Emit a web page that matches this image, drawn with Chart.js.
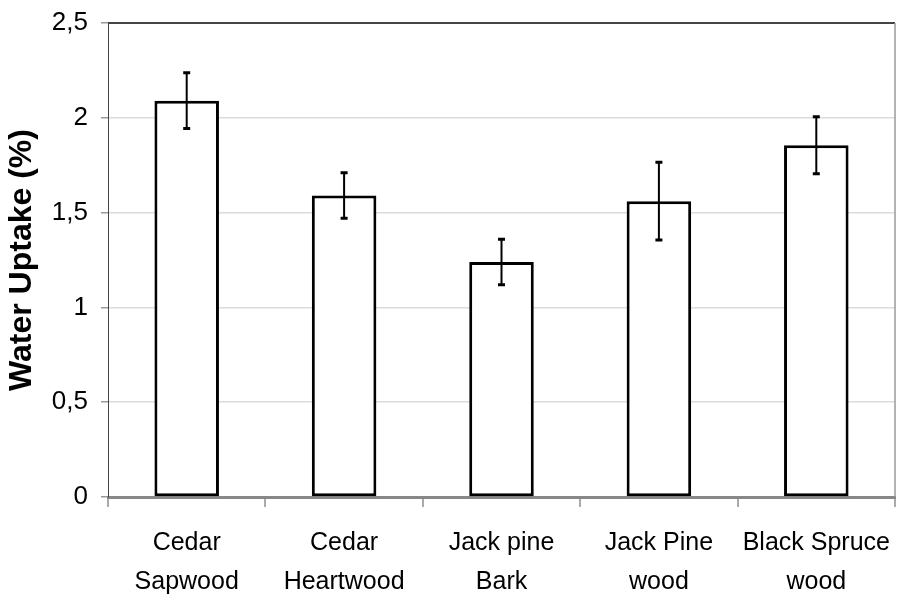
<!DOCTYPE html>
<html>
<head>
<meta charset="utf-8">
<script src="https://cdn.jsdelivr.net/npm/chart.js@4.4.1/dist/chart.umd.min.js"></script>
<style>
html,body{margin:0;padding:0;background:#fff;}
#wrap{width:897px;height:601px;}
</style>
</head>
<body>
<div id="wrap"><canvas id="c" width="897" height="601"></canvas></div>
<script>
const categories = [["Cedar","Sapwood"],["Cedar","Heartwood"],["Jack pine","Bark"],["Jack Pine","wood"],["Black Spruce","wood"]];
const uptake = [2.09, 1.59, 1.24, 1.56, 1.855];
const errors = [0.147, 0.12, 0.12, 0.205, 0.15];
const yTicks = [0, 0.5, 1, 1.5, 2, 2.5];
const yTitle = "Water Uptake (%)";

const FONT = "'Liberation Sans',Arial,sans-serif";

const errorBars = {
  id: 'errorBars',
  afterDatasetsDraw(chart) {
    const ctx = chart.ctx;
    const meta = chart.getDatasetMeta(0);
    const y = chart.scales.y;
    ctx.save();
    ctx.strokeStyle = '#000';
    meta.data.forEach((bar, i) => {
      const x = bar.x;
      const top = y.getPixelForValue(uptake[i] + errors[i]);
      const bot = y.getPixelForValue(uptake[i] - errors[i]);
      ctx.lineWidth = 2;
      ctx.beginPath();
      ctx.moveTo(x, top); ctx.lineTo(x, bot); ctx.stroke();
      ctx.lineWidth = 3;
      ctx.beginPath();
      ctx.moveTo(x - 3.5, top); ctx.lineTo(x + 3.5, top);
      ctx.moveTo(x - 3.5, bot); ctx.lineTo(x + 3.5, bot);
      ctx.stroke();
    });
    ctx.restore();
  }
};

const frame = {
  id: 'frame',
  afterDraw(chart) {
    const a = chart.chartArea, ctx = chart.ctx;
    ctx.save();
    ctx.strokeStyle = '#444';
    ctx.lineWidth = 2;
    ctx.beginPath();
    ctx.moveTo(a.left, a.top); ctx.lineTo(a.right, a.top);
    ctx.stroke();
    ctx.strokeStyle = '#999';
    ctx.lineWidth = 1.5;
    ctx.beginPath();
    ctx.moveTo(a.right, a.top); ctx.lineTo(a.right, a.bottom);
    ctx.stroke();
    ctx.restore();
  }
};

new Chart(document.getElementById('c'), {
  type: 'bar',
  data: {
    labels: categories,
    datasets: [{
      data: uptake,
      backgroundColor: '#fff',
      borderColor: '#000',
      borderWidth: 3,
      borderSkipped: false,
      barPercentage: 0.41,
      categoryPercentage: 1
    }]
  },
  options: {
    responsive: false,
    animation: false,
    devicePixelRatio: 1,
    layout: { padding: { top: 23, right: 2, left: 0, bottom: 0 } },
    plugins: { legend: { display: false }, tooltip: { enabled: false } },
    scales: {
      x: {
        offset: true,
        afterFit(s) { s.height = 104; s.paddingLeft = 0; s.paddingRight = 0; },
        grid: { offset: true, drawOnChartArea: false, color: '#aaa', tickLength: 10, lineWidth: 2 },
        border: { color: '#888', width: 3 },
        ticks: { color: '#000', font: { family: FONT, size: 25, lineHeight: 1.55 }, padding: 17, maxRotation: 0, autoSkip: false }
      },
      y: {
        min: 0, max: 2.5,
        afterBuildTicks(s) { s.ticks = yTicks.map(v => ({ value: v })); },
        afterFit(s) { s.width = 108; s.paddingTop = 0; s.paddingBottom = 0; },
        grid: {
          color: (c) => (c.tick && (c.tick.value === 0 || c.tick.value === 2.5)) ? 'rgba(0,0,0,0)' : '#dcdcdc',
          borderDash: [2, 3],
          tickColor: '#999',
          tickBorderDash: [],
          tickLength: 7,
          lineWidth: 1.5
        },
        border: { color: '#444', width: 1 },
        ticks: {
          color: '#000',
          font: { family: FONT, size: 26 },
          padding: 13,
          callback: (v) => String(v).replace('.', ',')
        },
        title: {
          display: true,
          text: yTitle,
          color: '#000',
          font: { family: FONT, size: 32, weight: 'bold' },
          padding: { top: 3, bottom: 0 }
        }
      }
    }
  },
  plugins: [errorBars, frame]
});
</script>
</body>
</html>
